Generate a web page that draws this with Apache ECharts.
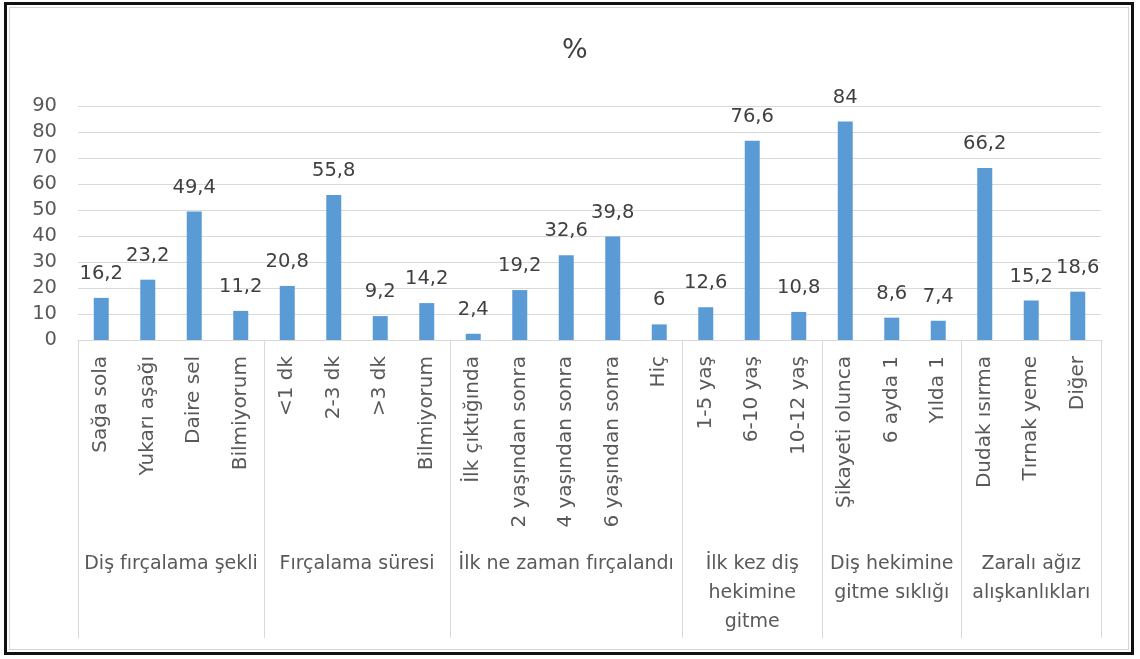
<!DOCTYPE html>
<html>
<head>
<meta charset="utf-8">
<script src="https://cdn.jsdelivr.net/npm/echarts@6/dist/echarts.min.js"></script>
<style>
  html, body { margin: 0; padding: 0; background: #fff; }
  #chart { position: absolute; left: 0; top: 0; width: 1140px; height: 659px; }
  #frame { position: absolute; left: 4px; top: 2px; width: 1130px; height: 653px;
           box-sizing: border-box; border: 3px solid #111; pointer-events: none; }
  #frame::after { content: ""; position: absolute; left: 2px; top: 2px; right: 2px; bottom: 2px;
                  border: 1px solid #d4d4d4; }
</style>
</head>
<body>
<div id="chart"></div>
<div id="frame"></div>
<script>
// Response categories, in drawing order
const categories = [
  'Sağa sola', 'Yukarı aşağı', 'Daire sel', 'Bilmiyorum',
  '<1 dk', '2-3 dk', '>3 dk', 'Bilmiyorum',
  'İlk çıktığında', '2 yaşından sonra', '4 yaşından sonra', '6 yaşından sonra', 'Hiç',
  '1-5 yaş', '6-10 yaş', '10-12 yaş',
  'Şikayeti olunca', '6 ayda 1', 'Yılda 1',
  'Dudak ısırma', 'Tırnak yeme', 'Diğer'
];
// Percentages for each category
const values = [
  16.2, 23.2, 49.4, 11.2,
  20.8, 55.8, 9.2, 14.2,
  2.4, 19.2, 32.6, 39.8, 6,
  12.6, 76.6, 10.8,
  84, 8.6, 7.4,
  66.2, 15.2, 18.6
];
// Question groups and how many categories each one spans
const groupNames = [
  'Diş fırçalama şekli',
  'Fırçalama süresi',
  'İlk ne zaman fırçalandı',
  'İlk kez diş\nhekimine\ngitme',
  'Diş hekimine\ngitme sıklığı',
  'Zaralı ağız\nalışkanlıkları'
];
const groupSizes = [4, 4, 5, 3, 3, 3];
const yTicks = [0, 10, 20, 30, 40, 50, 60, 70, 80, 90];

// Group boundaries and centres on a 0..N scale aligned with the category slots
const bounds = [0];
groupSizes.forEach(s => bounds.push(bounds[bounds.length - 1] + s));
const centers = groupSizes.map((s, i) => bounds[i] + s / 2);

const FONT = '"DejaVu Sans", sans-serif';
const chart = echarts.init(document.getElementById('chart'));
chart.setOption({
  animation: false,
  title: {
    text: '%', left: 562, top: 37, padding: 0,
    textStyle: { fontFamily: FONT, fontSize: 27, fontWeight: 'normal', color: '#404040' }
  },
  grid: { left: 78, right: 39, top: 106, bottom: 319, containLabel: false },
  xAxis: [
    {
      type: 'category', data: categories,
      axisLine: { lineStyle: { color: '#d9d9d9', width: 1 } },
      axisTick: { show: false },
      axisLabel: { rotate: 90, margin: 16, interval: 0, fontFamily: FONT, fontSize: 20, color: '#595959' }
    },
    {
      type: 'value', position: 'bottom', min: 0, max: categories.length,
      axisLine: { show: false },
      splitLine: { show: false },
      axisTick: { show: true, customValues: bounds, length: 298, lineStyle: { color: '#d9d9d9' } },
      axisLabel: {
        customValues: centers, margin: 210, fontFamily: FONT, fontSize: 19, color: '#595959',
        lineHeight: 29, align: 'center',
        formatter: v => groupNames[centers.indexOf(v)]
      }
    }
  ],
  yAxis: {
    type: 'value', min: yTicks[0], max: yTicks[yTicks.length - 1], interval: 10,
    axisLine: { show: false }, axisTick: { show: false },
    splitLine: { lineStyle: { color: '#d9d9d9', width: 1 } },
    axisLabel: { margin: 21, fontFamily: FONT, fontSize: 19.5, color: '#595959' }
  },
  series: [{
    type: 'bar', data: values, barWidth: 15, xAxisIndex: 0,
    itemStyle: { color: '#5b9bd5' },
    label: {
      show: true, position: 'top', distance: 14,
      fontFamily: FONT, fontSize: 19.5, color: '#404040',
      formatter: p => String(p.value).replace('.', ',')
    }
  }]
});
</script>
</body>
</html>
